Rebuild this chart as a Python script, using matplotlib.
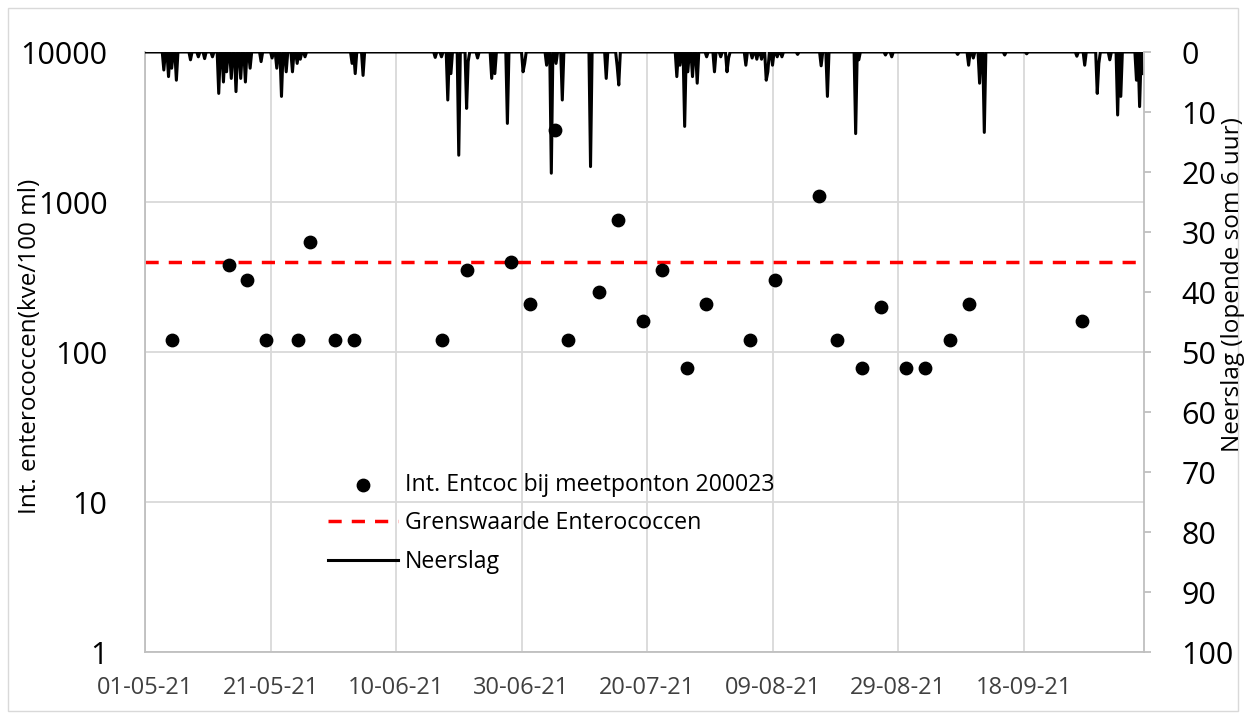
import numpy as np
import pandas as pd
import matplotlib
matplotlib.use("Agg")
import matplotlib.pyplot as plt
import matplotlib.dates as mdates
from matplotlib.patches import Rectangle

# ---------------- data ----------------
sample_dates = ["2021-05-05", "2021-05-14", "2021-05-17", "2021-05-20", "2021-05-25",
                "2021-05-27", "2021-05-31", "2021-06-03", "2021-06-17", "2021-06-21",
                "2021-06-28", "2021-07-01", "2021-07-05", "2021-07-07", "2021-07-12",
                "2021-07-15", "2021-07-19", "2021-07-22", "2021-07-26", "2021-07-29",
                "2021-08-05", "2021-08-09", "2021-08-16", "2021-08-19", "2021-08-23",
                "2021-08-26", "2021-08-30", "2021-09-02", "2021-09-06", "2021-09-09",
                "2021-09-27"]
entcoc = [120, 380, 300, 120, 120, 540, 120, 120, 120, 350,
          400, 210, 3000, 120, 250, 760, 160, 350, 78, 210,
          120, 300, 1100, 120, 78, 200, 78, 78, 120, 210,
          160]
grenswaarde = 400

# rain: running 6-hour sum (mm), days after 01-05-21 (6-hour resolution), zero elsewhere
rain_day = [3.0, 3.75, 4.25, 5.0, 7.25, 8.5, 9.5, 10.75, 11.75, 12.5, 13.0, 13.75, 14.5,
            15.25, 16.0, 16.75, 18.5, 20.25, 21.0, 21.75, 22.5, 23.5, 24.25, 24.75, 25.5,
            33.0, 33.5, 34.75, 46.25, 47.25, 48.25, 48.75, 50.0, 51.25, 51.5, 53.0,
            55.25, 55.75, 57.75, 60.25, 60.5, 64.0, 64.75, 65.5, 66.5, 71.0, 73.5, 75.25,
            75.5, 84.75, 85.25, 86.0, 86.5, 87.25, 88.0, 89.5, 90.75, 91.75, 92.75, 93.0,
            95.75, 96.75, 97.5, 98.25, 99.0, 99.25, 100.0, 100.75, 101.5, 104.0, 107.75,
            108.75, 113.25, 113.75, 118.0, 119.0, 129.5, 131.25, 132.0, 133.0, 133.75,
            137.0, 140.5, 148.5, 149.75, 151.75, 152.0, 153.75, 155.0, 155.5, 158.0,
            158.5, 159.0]
rain_mm = [3.0, 4.1, 2.7, 4.7, 1.3, 0.8, 1.1, 0.8, 6.9, 5.0, 3.3, 4.4, 6.6,
           4.4, 5.0, 2.7, 1.6, 1.0, 2.7, 7.4, 3.3, 3.3, 1.9, 1.2, 0.8,
           1.9, 3.6, 3.9, 0.9, 0.8, 8.0, 3.6, 17.2, 9.4, 1.6, 1.0,
           4.4, 3.6, 11.9, 3.3, 1.9, 2.2, 20.2, 1.9, 8.0, 19.1, 4.4, 2.4,
           5.5, 4.1, 2.2, 12.4, 3.3, 4.1, 5.2, 0.8, 3.3, 0.8, 3.3, 1.0,
           2.2, 1.0, 1.2, 1.2, 4.7, 3.3, 2.2, 0.8, 0.8, 0.4, 2.3,
           7.4, 13.6, 1.3, 0.5, 0.8, 0.4, 2.2, 1.0, 5.2, 13.4,
           0.5, 0.3, 0.7, 2.2, 6.9, 1.9, 1.3, 10.5, 7.4, 4.7,
           9.1, 3.6]

tick_dates = ["2021-05-01", "2021-05-21", "2021-06-10", "2021-06-30",
              "2021-07-20", "2021-08-09", "2021-08-29", "2021-09-18"]
start = pd.Timestamp("2021-05-01")
end_days = 159.2

# ---------------- build series ----------------
grid_days = np.arange(0, end_days + 0.001, 0.25)
rain_series = np.zeros_like(grid_days)
for d, v in zip(rain_day, rain_mm):
    rain_series[int(round(d / 0.25))] = v
rain_times = start + pd.to_timedelta(grid_days, unit="D")
samp_times = pd.to_datetime(sample_dates) + pd.Timedelta(hours=8)

# ---------------- figure ----------------
plt.rcParams['font.family'] = ['Open Sans', 'DejaVu Sans']
W, H = 1246, 719
fig = plt.figure(figsize=(W / 100, H / 100), dpi=100)
fig.patches.append(Rectangle((8 / W, 8 / H), (W - 16) / W, (H - 16) / H,
                             transform=fig.transFigure, fill=False,
                             edgecolor="#d9d9d9", linewidth=1))

ax = fig.add_axes([145 / W, 1 - 652 / H, (1144 - 145) / W, 600 / H])
ax.set_yscale("log")
ax.set_ylim(1, 10000)
ax.set_xlim(start, start + pd.Timedelta(days=end_days))
ax.set_yticks([1, 10, 100, 1000, 10000])
ax.set_yticklabels(["1", "10", "100", "1000", "10000"])
ax.yaxis.set_minor_locator(matplotlib.ticker.NullLocator())
ax.set_xticks(pd.to_datetime(tick_dates))
ax.xaxis.set_major_formatter(mdates.DateFormatter("%d-%m-%y"))
ax.grid(True, color="#d9d9d9", linewidth=1.3)
ax.set_axisbelow(True)
for s in ["top", "right"]:
    ax.spines[s].set_visible(False)
for s in ["left", "bottom"]:
    ax.spines[s].set_color("#bfbfbf")
    ax.spines[s].set_linewidth(1.3)
ax.tick_params(axis="y", length=0, labelsize=22, pad=27, colors="#000000")
ax.tick_params(axis="x", length=0, labelsize=17, pad=17, colors="#404040")
fig.text(30 / W, 1 - 346 / H, "Int. enterococcen(kve/100 ml)", rotation=90,
         fontsize=17.5, ha="center", va="center")

sc = ax.scatter(samp_times, entcoc, s=80, color="black", zorder=5,
                label="Int. Entcoc bij meetponton 200023")
gl = ax.axhline(grenswaarde, color="#ff0000", linestyle=(0, (3.8, 2.9)),
                linewidth=2.5, label="Grenswaarde Enterococcen")

ax2 = ax.twinx()
ax2.set_ylim(100, 0)
ax2.set_yticks(np.arange(0, 101, 10))
rl, = ax2.plot(rain_times, rain_series, color="black", linewidth=2.2,
               label="Neerslag")
for s in ["top", "left", "bottom"]:
    ax2.spines[s].set_visible(False)
ax2.spines["right"].set_color("#bfbfbf")
ax2.spines["right"].set_linewidth(1.3)
ax2.tick_params(axis="y", length=5, width=1.3, color="#bfbfbf",
                labelsize=22, pad=22)
fig.text(1233 / W, 1 - 285 / H, "Neerslag (lopende som 6 uur)", rotation=90,
         fontsize=17.5, ha="center", va="center")

leg = ax2.legend(handles=[sc, gl, rl], loc="upper left",
                 bbox_to_anchor=(328 / W, 1 - 473 / H), bbox_transform=fig.transFigure,
                 frameon=False, fontsize=16.7, handlelength=3.0, handletextpad=0.3,
                 labelspacing=0.62, borderaxespad=0, borderpad=0)

fig.savefig("out.png", dpi=100)
